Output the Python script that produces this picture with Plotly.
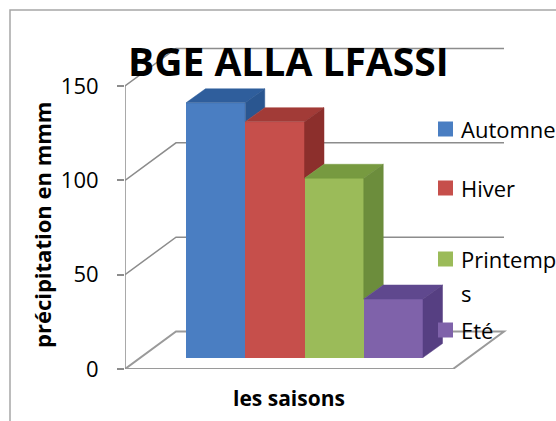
import plotly.graph_objects as go

# Seasonal precipitation at BGE Alla Lfassi (mm)
seasons = ["Automne", "Hiver", "Printemps", "Eté"]
precip = [135, 125, 95, 31]
y_ticks = [0, 50, 100, 150]

front_colors = ["#4A7EC2", "#C64F4B", "#9BBB59", "#7F62AA"]
top_colors = ["#2F5E9C", "#A23B37", "#779A40", "#5F488E"]
side_colors = ["#2A5690", "#8C2F2C", "#6C8D3C", "#563F82"]

# Figure geometry (pixels)
W, H = 556, 421
ML, MR, MT, MB = 125, 0, 10, 52
PW, PH = W - ML - MR, H - MT - MB
K = 283 / 150              # pixels per mm on the front plane
Y_MAX = PH / K

# Oblique depth of the floor / back wall and of each bar
FLOOR_W = 328
FLOOR_DX, FLOOR_DY = 51, 37.5 / K
BAR_LEFT, BAR_W = 61, 59.25
BAR_LIFT = 11.5 / K
BAR_DX, BAR_DY = 19.5, 14 / K


def paper(px, py):
    return (px - ML) / PW, (H - MB - py) / PH


fig = go.Figure()

# floor and back-wall gridlines
shapes = []
shapes.append(dict(
    type="path", xref="x", yref="y", layer="below",
    path=(f"M0,0 L{FLOOR_W},0 L{FLOOR_W + FLOOR_DX},{FLOOR_DY} "
          f"L{FLOOR_DX},{FLOOR_DY} Z"),
    fillcolor="white", line=dict(color="#9A9A9A", width=2),
))
for v in y_ticks[1:]:
    shapes.append(dict(
        type="path", xref="x", yref="y", layer="below",
        path=(f"M0,{v} L{FLOOR_DX},{v + FLOOR_DY} "
              f"L{FLOOR_W + FLOOR_DX},{v + FLOOR_DY}"),
        line=dict(color="#8C8C8C", width=1.5),
    ))
# vertical value axis
shapes.append(dict(type="line", xref="x", yref="y", x0=0, x1=0,
                   y0=0, y1=y_ticks[-1], layer="below",
                   line=dict(color="#8C8C8C", width=1.5)))

# chart area border
bx0, by0 = paper(10, 10)
bx1, by1 = paper(W + 20, H + 20)
shapes.append(dict(type="rect", xref="paper", yref="paper",
                   x0=bx0, x1=bx1, y0=by1, y1=by0,
                   line=dict(color="#A6A6A6", width=1.5)))

n = len(precip)
for i, (name, v) in enumerate(zip(seasons, precip)):
    xl = BAR_LEFT + i * BAR_W
    xr = xl + BAR_W
    b = BAR_LIFT
    fig.add_trace(go.Bar(
        x=[(xl + xr) / 2], y=[v], base=[b], width=BAR_W, name=name,
        marker=dict(color=front_colors[i], line=dict(width=0)),
        showlegend=False, hoverinfo="name+y",
    ))
    # top face
    fig.add_trace(go.Scatter(
        x=[xl, xr, xr + BAR_DX, xl + BAR_DX, xl],
        y=[b + v, b + v, b + v + BAR_DY, b + v + BAR_DY, b + v],
        mode="lines", fill="toself", fillcolor=top_colors[i],
        line=dict(color=top_colors[i], width=0.5),
        showlegend=False, hoverinfo="skip",
    ))
    # right side face (part not hidden by the next bar)
    lo = min(precip[i + 1], v) if i + 1 < n else 0
    fig.add_trace(go.Scatter(
        x=[xr, xr, xr + BAR_DX, xr + BAR_DX, xr],
        y=[b + lo, b + v, b + v + BAR_DY, b + lo + BAR_DY, b + lo],
        mode="lines", fill="toself", fillcolor=side_colors[i],
        line=dict(color=side_colors[i], width=0.5),
        showlegend=False, hoverinfo="skip",
    ))

annotations = []


def text(px, py, s, size, bold=False, xanchor="center", angle=0):
    x, y = paper(px, py)
    annotations.append(dict(
        x=x, y=y, xref="paper", yref="paper", text=f"<b>{s}</b>" if bold else s,
        showarrow=False, xanchor=xanchor, yanchor="middle", textangle=angle,
        font=dict(family="Open Sans", size=size, color="black"),
    ))


text(288, 61, "BGE ALLA LFASSI", 39, bold=True)
text(42, 225, "précipitation en mmm", 22, bold=True, angle=-90)
text(289, 398, "les saisons", 21, bold=True)

# legend
legend_rows = [129, 188, 259, 330]
legend_labels = [["Automne"], ["Hiver"], ["Printemp", "s"], ["Eté"]]
for i, (yc, lines) in enumerate(zip(legend_rows, legend_labels)):
    sx0, sy0 = paper(438, yc - 7.5)
    sx1, sy1 = paper(453, yc + 7.5)
    shapes.append(dict(type="rect", xref="paper", yref="paper",
                       x0=sx0, x1=sx1, y0=sy1, y1=sy0,
                       fillcolor=front_colors[i], line=dict(width=0)))
    for j, s in enumerate(lines):
        text(459, yc + j * 34, s, 22, xanchor="left")

fig.update_layout(
    width=W, height=H,
    margin=dict(l=ML, r=MR, t=MT, b=MB, pad=0),
    paper_bgcolor="white", plot_bgcolor="rgba(0,0,0,0)",
    bargap=0, showlegend=False,
    shapes=shapes, annotations=annotations,
    xaxis=dict(range=[0, PW], visible=False, fixedrange=True),
    yaxis=dict(
        range=[0, Y_MAX], tickvals=y_ticks, ticks="outside", ticklen=7,
        tickcolor="#8C8C8C", tickwidth=1.5, showgrid=False, zeroline=False,
        showline=False, automargin=False, ticklabelstandoff=14,
        tickfont=dict(family="Open Sans", size=22, color="black"),
    ),
)

fig.write_html("out.html")
